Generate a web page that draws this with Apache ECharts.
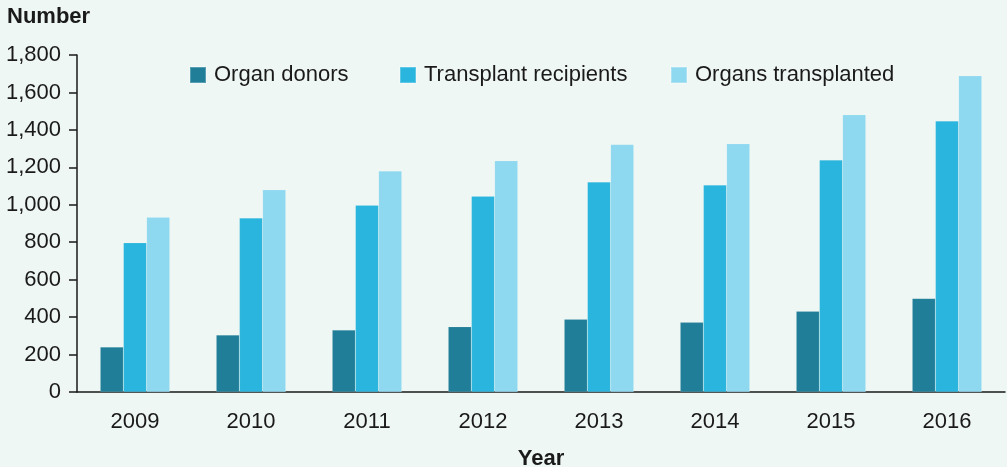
<!DOCTYPE html>
<html>
<head>
<meta charset="utf-8">
<script src="https://cdn.jsdelivr.net/npm/echarts@6/dist/echarts.min.js"></script>
<style>
  html, body { margin: 0; padding: 0; background: #eef7f3; }
  #chart { width: 1007px; height: 467px; }
</style>
</head>
<body>
<div id="chart"></div>
<script>
// Years on the category axis
const years = ['2009', '2010', '2011', '2012', '2013', '2014', '2015', '2016'];

// Annual counts
const organDonors = [240, 304, 331, 349, 388, 372, 431, 500];
const transplantRecipients = [797, 929, 998, 1046, 1121, 1105, 1239, 1447];
const organsTransplanted = [934, 1080, 1180, 1235, 1322, 1326, 1481, 1689];

// Value axis
const yMin = 0;
const yMax = 1800;
const yStep = 200;

const seriesNames = ['Organ donors', 'Transplant recipients', 'Organs transplanted'];
const seriesColors = ['#217e98', '#29b5dd', '#8ed8f0'];
const seriesData = [organDonors, transplantRecipients, organsTransplanted];

const FONT = '"Liberation Sans", Arial, Helvetica, sans-serif';
const FS = 22;
const legendLefts = [189, 399, 670];

const chart = echarts.init(document.getElementById('chart'), null, { renderer: 'canvas' });

chart.setOption({
  backgroundColor: '#eef7f3',
  animation: false,
  textStyle: { fontFamily: FONT, color: '#1a1a1a' },
  title: {
    text: 'Number',
    left: 7,
    top: 6,
    padding: 0,
    textStyle: { fontFamily: FONT, fontSize: 22, fontWeight: 'bold', color: '#1a1a1a' }
  },
  legend: seriesNames.map((name, i) => ({
    data: [name],
    left: legendLefts[i],
    top: 64,
    padding: 0,
    itemWidth: 16,
    itemHeight: 16,
    icon: 'rect',
    selectedMode: false,
    textStyle: { fontFamily: FONT, fontSize: FS, color: '#1a1a1a', padding: [0, 0, 0, 3] }
  })),
  grid: { left: 77, right: 2, top: 55, bottom: 75, containLabel: false, outerBoundsMode: 'none' },
  xAxis: {
    type: 'category',
    data: years,
    name: 'Year',
    nameLocation: 'middle',
    nameGap: 56,
    nameTextStyle: { fontFamily: FONT, fontSize: 22, fontWeight: 'bold', color: '#1a1a1a' },
    axisLine: { lineStyle: { color: '#1a1a1a', width: 1.5 } },
    axisTick: { show: false },
    axisLabel: { fontFamily: FONT, fontSize: FS, color: '#1a1a1a', margin: 19 },
    splitLine: { show: false }
  },
  yAxis: {
    type: 'value',
    min: yMin,
    max: yMax,
    interval: yStep,
    axisLine: { show: true, lineStyle: { color: '#1a1a1a', width: 1.5 } },
    axisTick: { show: true, length: 8, lineStyle: { color: '#1a1a1a', width: 1.5 } },
    axisLabel: {
      fontFamily: FONT, fontSize: FS, color: '#1a1a1a', margin: 16,
      formatter: v => v.toLocaleString('en-US')
    },
    splitLine: { show: false }
  },
  series: seriesNames.map((name, i) => ({
    name: name,
    type: 'bar',
    data: seriesData[i],
    barGap: '0%',
    barCategoryGap: '40%',
    itemStyle: { color: seriesColors[i], borderColor: 'rgba(255,255,255,0.25)', borderWidth: 0.5 }
  }))
});
</script>
</body>
</html>
